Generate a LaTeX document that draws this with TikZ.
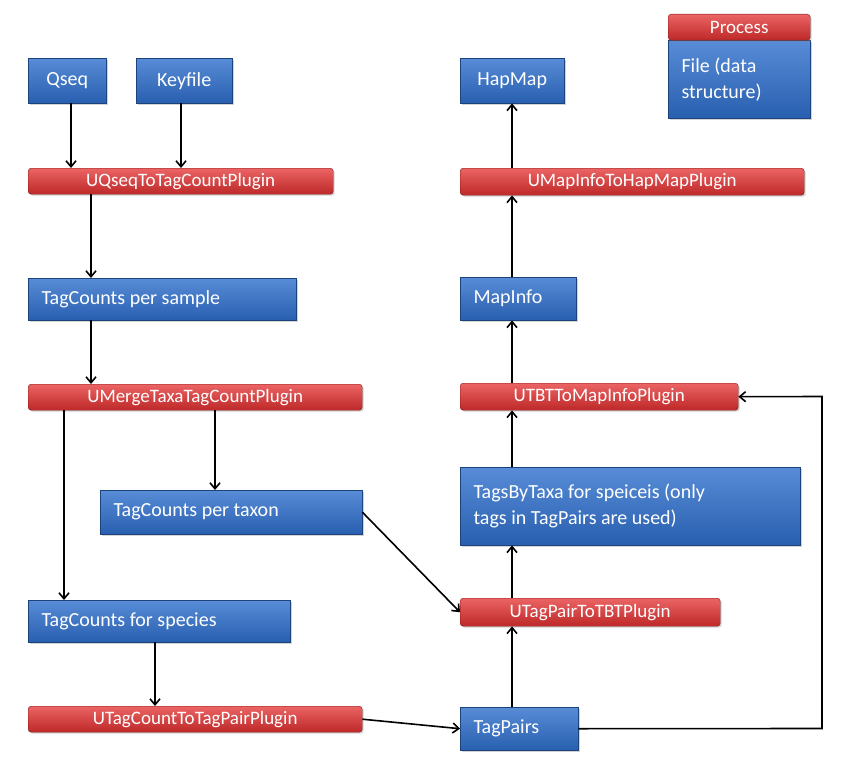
\documentclass[tikz,border=0pt]{standalone}
\usepackage{fontspec}
\setmainfont{Carlito}
\usetikzlibrary{arrows.meta,shadows}
\definecolor{bA}{RGB}{88,140,215}\definecolor{bB}{RGB}{40,95,175}
\definecolor{rA}{RGB}{235,100,100}\definecolor{rB}{RGB}{190,40,40}
\begin{document}
\begin{tikzpicture}[x=1pt,y=-1pt,
 box/.style={draw=bB!70!black,line width=0.4pt,top color=bA,bottom color=bB,text=white,font=\fontsize{20}{23}\selectfont,drop shadow={opacity=0.35,shadow xshift=1.5pt,shadow yshift=-1.5pt},inner sep=0pt},
 proc/.style={draw=rB!70!black,line width=0.4pt,top color=rA,bottom color=rB,text=white,font=\fontsize{19}{22}\selectfont,rounded corners=3pt,drop shadow={opacity=0.35,shadow xshift=1.5pt,shadow yshift=-1.5pt},inner sep=0pt},
 arr/.style={-{Straight Barb[length=6pt,width=10pt]},line width=1.6pt}]
\useasboundingbox (0,0) rectangle (843,757);
\newcommand{\bx}[6]{\node[#1,minimum width=#4-#3,minimum height=#6-#5,anchor=north west,align=left] (#2) at (#3,#5) {};}
\bx{box}{qseq}{28}{106}{58}{103}\node[text=white,font=\fontsize{20}{23}\selectfont] at (qseq) {Qseq};
\bx{box}{key}{136}{232}{58}{103}\node[text=white,font=\fontsize{20}{23}\selectfont] at (key) {Keyfile};
\bx{proc}{uq}{28}{333}{168}{194}\node[text=white,font=\fontsize{19}{22}\selectfont] at (uq) {UQseqToTagCountPlugin};
\bx{box}{tcs}{28}{296}{278}{320}\node[text=white,font=\fontsize{20}{23}\selectfont,anchor=west] at ([xshift=10pt]tcs.west) {TagCounts per sample};
\bx{proc}{um}{28}{362}{384}{410}\node[text=white,font=\fontsize{19}{22}\selectfont] at (um) {UMergeTaxaTagCountPlugin};
\bx{box}{tct}{100}{362}{490}{534}\node[text=white,font=\fontsize{20}{23}\selectfont,anchor=west] at ([xshift=10pt]tct.west) {TagCounts per taxon};
\bx{box}{tcf}{28}{290}{600}{642}\node[text=white,font=\fontsize{20}{23}\selectfont,anchor=west] at ([xshift=10pt]tcf.west) {TagCounts for species};
\bx{proc}{utc}{28}{362}{706}{732}\node[text=white,font=\fontsize{19}{22}\selectfont] at (utc) {UTagCountToTagPairPlugin};
\bx{box}{tp}{460}{578}{707}{750}\node[text=white,font=\fontsize{20}{23}\selectfont,anchor=west] at ([xshift=10pt]tp.west) {TagPairs};
\bx{proc}{utp}{460}{720}{598}{626}\node[text=white,font=\fontsize{19}{22}\selectfont] at (utp) {UTagPairToTBTPlugin};
\bx{box}{tbt}{460}{800}{467}{545}\node[text=white,font=\fontsize{20}{26}\selectfont,anchor=west,align=left] at ([xshift=10pt]tbt.west) {TagsByTaxa for speiceis (only\\tags in TagPairs are used)};
\bx{proc}{utbt}{460}{738}{383}{410}\node[text=white,font=\fontsize{19}{22}\selectfont] at (utbt) {UTBTToMapInfoPlugin};
\bx{box}{mi}{460}{576}{277}{320}\node[text=white,font=\fontsize{20}{23}\selectfont,anchor=west] at ([xshift=10pt]mi.west) {MapInfo};
\bx{proc}{umi}{460}{804}{168}{195}\node[text=white,font=\fontsize{19}{22}\selectfont] at (umi) {UMapInfoToHapMapPlugin};
\bx{box}{hm}{460}{564}{58}{103}\node[text=white,font=\fontsize{20}{23}\selectfont] at (hm) {HapMap};
\bx{box}{lf}{668}{810}{40}{118}\node[text=white,font=\fontsize{20}{26}\selectfont,anchor=west,align=left] at ([xshift=10pt]lf.west) {File (data\\structure)};
\bx{proc}{lp}{668}{810}{14}{40}\node[text=white,font=\fontsize{19}{22}\selectfont] at (lp) {Process};
\draw[arr] (qseq.south -| 71,0) -- (uq.north -| 71,0);
\draw[arr] (key.south -| 181,0) -- (uq.north -| 181,0);
\draw[arr] (uq.south -| 91,0) -- (tcs.north -| 91,0);
\draw[arr] (tcs.south -| 91,0) -- (um.north -| 91,0);
\draw[arr] (um.south -| 64,0) -- (tcf.north -| 64,0);
\draw[arr] (um.south -| 215,0) -- (tct.north -| 215,0);
\draw[arr] (tct.east) -- (utp.west);
\draw[arr] (tcf.south -| 155,0) -- (utc.north -| 155,0);
\draw[arr] (utc.east) -- (tp.west);
\draw[arr] (tp.north -| 512,0) -- (utp.south -| 512,0);
\draw[arr] (utp.north -| 512,0) -- (tbt.south -| 512,0);
\draw[arr] (tbt.north -| 512,0) -- (utbt.south -| 512,0);
\draw[arr] (utbt.north -| 512,0) -- (mi.south -| 512,0);
\draw[arr] (mi.north -| 512,0) -- (umi.south -| 512,0);
\draw[arr] (umi.north -| 512,0) -- (hm.south -| 512,0);
\draw[arr] (tp.east) -- (822,728.5) -- (822,396.5) -- (utbt.east);
\end{tikzpicture}
\end{document}
